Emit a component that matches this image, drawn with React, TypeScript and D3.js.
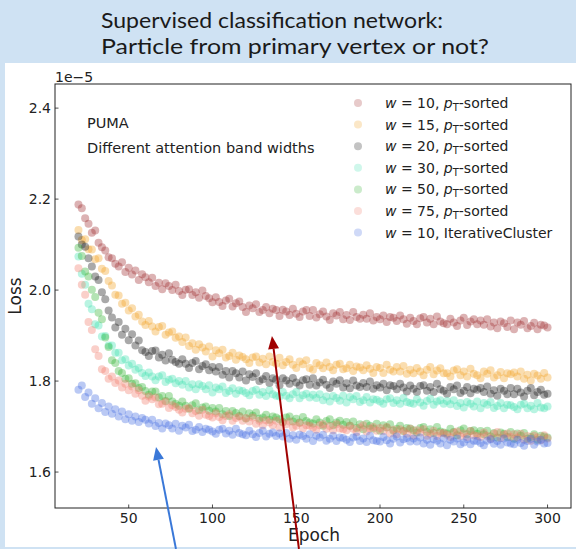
import React from "react";
import * as d3 from "d3";

// Epochs sampled every 2 epochs from 20 to 300
const epochs: number[] = d3.range(20, 301, 2);

// Loss values (units of 1e-5)
const w10: number[] = [
  2.188, 2.180, 2.158, 2.146, 2.126, 2.131, 2.104, 2.094, 2.087, 2.072,
  2.070, 2.058, 2.052, 2.061, 2.040, 2.049, 2.034, 2.043, 2.022, 2.035,
  2.028, 2.017, 2.027, 2.009, 2.016, 2.002, 2.015, 2.009, 2.000, 2.012,
  1.998, 1.989, 2.001, 2.002, 1.989, 1.995, 1.983, 1.999, 1.987, 1.982,
  1.973, 1.984, 1.974, 1.965, 1.977, 1.981, 1.964, 1.971, 1.975, 1.963,
  1.952, 1.966, 1.960, 1.969, 1.952, 1.956, 1.963, 1.949, 1.959, 1.956,
  1.943, 1.957, 1.953, 1.945, 1.959, 1.948, 1.941, 1.953, 1.956, 1.943,
  1.956, 1.940, 1.947, 1.953, 1.942, 1.934, 1.949, 1.944, 1.952, 1.936,
  1.945, 1.934, 1.952, 1.941, 1.937, 1.946, 1.937, 1.949, 1.933, 1.941,
  1.936, 1.944, 1.930, 1.941, 1.939, 1.932, 1.944, 1.936, 1.926, 1.939,
  1.932, 1.925, 1.938, 1.941, 1.929, 1.937, 1.925, 1.942, 1.931, 1.927,
  1.925, 1.937, 1.929, 1.921, 1.933, 1.939, 1.923, 1.931, 1.936, 1.925,
  1.933, 1.924, 1.936, 1.920, 1.929, 1.916, 1.931, 1.927, 1.919, 1.933,
  1.914, 1.929, 1.924, 1.932, 1.916, 1.921, 1.928, 1.914, 1.924, 1.922,
  1.918,
];
const w15: number[] = [
  2.132, 2.110, 2.112, 2.090, 2.089, 2.068, 2.070, 2.047, 2.042, 2.020,
  2.010, 1.990, 1.988, 1.970, 1.972, 1.955, 1.960, 1.942, 1.946, 1.931,
  1.923, 1.932, 1.920, 1.909, 1.919, 1.921, 1.902, 1.907, 1.909, 1.895,
  1.898, 1.886, 1.896, 1.877, 1.883, 1.869, 1.881, 1.874, 1.865, 1.876,
  1.854, 1.868, 1.861, 1.869, 1.852, 1.855, 1.862, 1.847, 1.856, 1.853,
  1.848, 1.840, 1.852, 1.854, 1.841, 1.849, 1.837, 1.854, 1.842, 1.838,
  1.851, 1.835, 1.842, 1.848, 1.836, 1.829, 1.843, 1.837, 1.846, 1.829,
  1.825, 1.840, 1.835, 1.828, 1.841, 1.831, 1.824, 1.836, 1.838, 1.826,
  1.828, 1.836, 1.822, 1.832, 1.830, 1.824, 1.835, 1.827, 1.818, 1.831,
  1.829, 1.818, 1.836, 1.825, 1.821, 1.831, 1.821, 1.833, 1.816, 1.825,
  1.817, 1.829, 1.821, 1.813, 1.825, 1.831, 1.815, 1.823, 1.828, 1.817,
  1.817, 1.810, 1.823, 1.826, 1.813, 1.821, 1.810, 1.827, 1.816, 1.813,
  1.806, 1.821, 1.816, 1.824, 1.808, 1.813, 1.820, 1.806, 1.817, 1.815,
  1.819, 1.810, 1.821, 1.805, 1.814, 1.801, 1.816, 1.812, 1.805, 1.818,
  1.808,
];
const w20: number[] = [
  2.118, 2.100, 2.095, 2.070, 2.052, 2.030, 2.022, 1.995, 1.980, 1.955,
  1.940, 1.918, 1.930, 1.902, 1.915, 1.890, 1.903, 1.878, 1.889, 1.868,
  1.864, 1.855, 1.866, 1.867, 1.852, 1.858, 1.845, 1.861, 1.847, 1.842,
  1.838, 1.848, 1.838, 1.829, 1.840, 1.844, 1.826, 1.833, 1.837, 1.824,
  1.831, 1.821, 1.831, 1.814, 1.822, 1.808, 1.822, 1.817, 1.808, 1.821,
  1.801, 1.815, 1.809, 1.817, 1.800, 1.804, 1.811, 1.796, 1.806, 1.803,
  1.791, 1.806, 1.801, 1.794, 1.807, 1.797, 1.790, 1.802, 1.804, 1.792,
  1.806, 1.790, 1.797, 1.803, 1.792, 1.785, 1.799, 1.794, 1.802, 1.786,
  1.795, 1.784, 1.801, 1.790, 1.787, 1.796, 1.787, 1.799, 1.783, 1.791,
  1.786, 1.794, 1.780, 1.791, 1.789, 1.782, 1.794, 1.786, 1.777, 1.790,
  1.783, 1.776, 1.789, 1.791, 1.779, 1.787, 1.776, 1.794, 1.782, 1.779,
  1.772, 1.787, 1.782, 1.790, 1.774, 1.779, 1.787, 1.773, 1.783, 1.781,
  1.785, 1.776, 1.788, 1.772, 1.780, 1.768, 1.783, 1.779, 1.771, 1.785,
  1.771, 1.783, 1.775, 1.766, 1.779, 1.785, 1.769, 1.776, 1.781, 1.770,
  1.772,
];
const w30: number[] = [
  2.074, 2.036, 2.012, 1.970, 1.958, 1.925, 1.922, 1.898, 1.899, 1.878,
  1.878, 1.862, 1.862, 1.846, 1.848, 1.834, 1.838, 1.825, 1.829, 1.818,
  1.811, 1.819, 1.810, 1.802, 1.810, 1.813, 1.798, 1.803, 1.805, 1.795,
  1.800, 1.792, 1.800, 1.786, 1.793, 1.782, 1.793, 1.789, 1.782, 1.791,
  1.775, 1.786, 1.782, 1.788, 1.774, 1.778, 1.784, 1.772, 1.780, 1.778,
  1.774, 1.769, 1.778, 1.781, 1.770, 1.776, 1.767, 1.780, 1.771, 1.768,
  1.766, 1.776, 1.768, 1.762, 1.771, 1.776, 1.762, 1.769, 1.772, 1.764,
  1.770, 1.763, 1.771, 1.758, 1.766, 1.755, 1.767, 1.763, 1.757, 1.768,
  1.753, 1.765, 1.760, 1.767, 1.754, 1.758, 1.765, 1.753, 1.760, 1.759,
  1.755, 1.750, 1.760, 1.762, 1.752, 1.758, 1.750, 1.763, 1.754, 1.752,
  1.750, 1.760, 1.753, 1.746, 1.756, 1.761, 1.748, 1.755, 1.758, 1.750,
  1.756, 1.749, 1.758, 1.745, 1.752, 1.742, 1.754, 1.750, 1.744, 1.755,
  1.740, 1.752, 1.748, 1.754, 1.741, 1.745, 1.752, 1.740, 1.748, 1.747,
  1.743, 1.738, 1.748, 1.750, 1.740, 1.746, 1.738, 1.752, 1.742, 1.740,
  1.744,
];
const w50: number[] = [
  2.093, 2.075, 2.041, 2.030, 2.001, 1.985, 1.950, 1.936, 1.896, 1.875,
  1.846, 1.840, 1.822, 1.818, 1.805, 1.806, 1.794, 1.795, 1.785, 1.787,
  1.778, 1.770, 1.777, 1.777, 1.764, 1.767, 1.756, 1.767, 1.755, 1.750,
  1.746, 1.755, 1.746, 1.739, 1.747, 1.751, 1.736, 1.742, 1.744, 1.735,
  1.741, 1.733, 1.741, 1.727, 1.734, 1.723, 1.734, 1.730, 1.723, 1.733,
  1.718, 1.729, 1.724, 1.731, 1.717, 1.720, 1.726, 1.715, 1.722, 1.720,
  1.716, 1.710, 1.720, 1.722, 1.711, 1.717, 1.709, 1.721, 1.712, 1.709,
  1.707, 1.716, 1.709, 1.702, 1.712, 1.716, 1.703, 1.709, 1.713, 1.704,
  1.710, 1.702, 1.711, 1.697, 1.705, 1.694, 1.706, 1.702, 1.696, 1.706,
  1.691, 1.703, 1.698, 1.705, 1.691, 1.695, 1.702, 1.690, 1.697, 1.696,
  1.692, 1.687, 1.697, 1.699, 1.688, 1.694, 1.686, 1.699, 1.689, 1.687,
  1.685, 1.695, 1.688, 1.681, 1.692, 1.696, 1.683, 1.690, 1.692, 1.684,
  1.690, 1.683, 1.691, 1.678, 1.686, 1.676, 1.687, 1.684, 1.677, 1.688,
  1.673, 1.685, 1.680, 1.686, 1.673, 1.677, 1.683, 1.671, 1.680, 1.678,
  1.676,
];
const w75: number[] = [
  2.048, 2.012, 1.990, 1.930, 1.912, 1.870, 1.855, 1.826, 1.822, 1.805,
  1.810, 1.796, 1.801, 1.786, 1.794, 1.780, 1.788, 1.772, 1.780, 1.768,
  1.757, 1.766, 1.760, 1.764, 1.749, 1.750, 1.755, 1.741, 1.747, 1.743,
  1.737, 1.731, 1.739, 1.741, 1.729, 1.734, 1.724, 1.737, 1.726, 1.723,
  1.720, 1.729, 1.721, 1.714, 1.723, 1.727, 1.713, 1.719, 1.722, 1.713,
  1.719, 1.711, 1.720, 1.706, 1.713, 1.703, 1.714, 1.709, 1.703, 1.713,
  1.698, 1.709, 1.705, 1.711, 1.698, 1.702, 1.708, 1.696, 1.703, 1.702,
  1.698, 1.693, 1.703, 1.705, 1.695, 1.701, 1.692, 1.705, 1.696, 1.694,
  1.692, 1.702, 1.695, 1.688, 1.698, 1.703, 1.689, 1.696, 1.699, 1.691,
  1.697, 1.690, 1.699, 1.685, 1.693, 1.683, 1.694, 1.690, 1.684, 1.695,
  1.680, 1.692, 1.687, 1.694, 1.680, 1.684, 1.691, 1.679, 1.686, 1.686,
  1.682, 1.677, 1.687, 1.689, 1.679, 1.685, 1.677, 1.690, 1.681, 1.679,
  1.677, 1.687, 1.680, 1.673, 1.684, 1.688, 1.675, 1.682, 1.685, 1.677,
  1.683, 1.676, 1.684, 1.671, 1.679, 1.669, 1.680, 1.676, 1.670, 1.681,
  1.674,
];
const iterCluster: number[] = [
  1.781, 1.790, 1.765, 1.775, 1.750, 1.762, 1.740, 1.752, 1.732, 1.744,
  1.728, 1.738, 1.722, 1.733, 1.716, 1.727, 1.713, 1.722, 1.710, 1.719,
  1.715, 1.707, 1.715, 1.701, 1.708, 1.696, 1.707, 1.703, 1.696, 1.706,
  1.691, 1.702, 1.698, 1.704, 1.690, 1.693, 1.699, 1.688, 1.695, 1.693,
  1.689, 1.684, 1.693, 1.695, 1.685, 1.691, 1.682, 1.695, 1.686, 1.683,
  1.681, 1.691, 1.683, 1.677, 1.686, 1.691, 1.678, 1.684, 1.687, 1.679,
  1.685, 1.678, 1.686, 1.673, 1.681, 1.671, 1.682, 1.679, 1.673, 1.683,
  1.668, 1.680, 1.676, 1.682, 1.669, 1.673, 1.680, 1.668, 1.676, 1.675,
  1.671, 1.666, 1.676, 1.678, 1.668, 1.674, 1.666, 1.680, 1.670, 1.668,
  1.667, 1.677, 1.670, 1.663, 1.673, 1.678, 1.665, 1.672, 1.675, 1.667,
  1.674, 1.667, 1.676, 1.663, 1.671, 1.660, 1.672, 1.669, 1.663, 1.674,
  1.659, 1.671, 1.667, 1.674, 1.661, 1.665, 1.672, 1.661, 1.669, 1.668,
  1.664, 1.659, 1.669, 1.672, 1.662, 1.668, 1.660, 1.674, 1.665, 1.663,
  1.661, 1.671, 1.664, 1.658, 1.668, 1.673, 1.660, 1.667, 1.671, 1.663,
  1.664,
];

const seriesValues: number[][] = [w10, w15, w20, w30, w50, w75, iterCluster];
const seriesWidth: string[] = ["10", "15", "20", "30", "50", "75", "10"];
const seriesSuffix: string[] = ["pt", "pt", "pt", "pt", "pt", "pt", "IterativeCluster"];
const seriesColors: string[] = ["#9e2a2b", "#f0a020", "#111111", "#3ee0ae", "#2fb12f", "#f07a6a", "#4169e1"];

const xTicks: number[] = [50, 100, 150, 200, 250, 300];
const yTicks: number[] = [1.6, 1.8, 2.0, 2.2, 2.4];

// Annotation arrows in data coordinates: [tailX, tailY, tipX, tipY]
const arrowBlue: number[] = [78.2, 1.431, 66.3, 1.655];
const arrowRed: number[] = [151.6, 1.431, 135.5, 1.899];

const W = 576;
const H = 549;
const PL = 55, PR = 571, PT = 84, PB = 508;

export default function App() {
  const x = d3.scaleLinear().domain([6, 314]).range([PL, PR]);
  const y = d3.scaleLinear().domain([1.521, 2.453]).range([PB, PT]);
  const tickFont = "DejaVu Sans, sans-serif";

  const arrow = (a: number[], color: string, key: string) => {
    const x1 = x(a[0]), y1 = y(a[1]), x2 = x(a[2]), y2 = y(a[3]);
    const ang = Math.atan2(y2 - y1, x2 - x1);
    const L = 13, Wd = 5.5;
    const bx = x2 - L * Math.cos(ang), by = y2 - L * Math.sin(ang);
    const p1 = [bx + Wd * Math.sin(ang), by - Wd * Math.cos(ang)];
    const p2 = [bx - Wd * Math.sin(ang), by + Wd * Math.cos(ang)];
    return (
      <g key={key}>
        <line x1={x1} y1={y1} x2={bx} y2={by} stroke={color} strokeWidth={2} />
        <polygon points={`${x2},${y2} ${p1[0]},${p1[1]} ${p2[0]},${p2[1]}`} fill={color} />
      </g>
    );
  };

  const legendY0 = 103;
  const legendDy = 21.6;

  return (
    <svg width={W} height={H} style={{ position: "absolute", left: 0, top: 0 }} xmlns="http://www.w3.org/2000/svg">
      <rect x={0} y={0} width={W} height={H} fill="#cfe2f3" />
      <text x={101} y={28} fontFamily="Lato, sans-serif" fontSize={22} fill="#1a1a1a" textLength={342} lengthAdjust="spacingAndGlyphs">
        Supervised classification network:
      </text>
      <text x={101} y={54} fontFamily="Lato, sans-serif" fontSize={22} fill="#1a1a1a" textLength={388} lengthAdjust="spacingAndGlyphs">
        Particle from primary vertex or not?
      </text>
      <rect x={5} y={63} width={W - 5} height={484} fill="#ffffff" />

      <defs>
        <clipPath id="plotclip">
          <rect x={PL} y={PT} width={PR - PL} height={PB - PT} />
        </clipPath>
      </defs>

      <g clipPath="url(#plotclip)">
        {seriesValues.map((vals, si) => (
          <g key={si} fill={seriesColors[si]} fillOpacity={0.36}>
            {vals.map((v, i) => (
              <circle key={i} cx={x(epochs[i])} cy={y(v)} r={4} />
            ))}
          </g>
        ))}
      </g>

      {/* spines */}
      <rect x={PL} y={PT} width={PR - PL} height={PB - PT} fill="none" stroke="#222" strokeWidth={1} />

      {/* x ticks */}
      {xTicks.map((t) => (
        <g key={t}>
          <line x1={x(t)} x2={x(t)} y1={PB} y2={PB - 3.5} stroke="#222" strokeWidth={0.8} />
          <text x={x(t)} y={PB + 15} textAnchor="middle" fontFamily={tickFont} fontSize={14} fill="#222">
            {t}
          </text>
        </g>
      ))}
      {/* y ticks */}
      {yTicks.map((t) => (
        <g key={t}>
          <line x1={PL} x2={PL + 3.5} y1={y(t)} y2={y(t)} stroke="#222" strokeWidth={0.8} />
          <text x={PL - 4} y={y(t)} dy="0.35em" textAnchor="end" fontFamily={tickFont} fontSize={14} fill="#222">
            {d3.format(".1f")(t)}
          </text>
        </g>
      ))}
      <text x={PL} y={82} fontFamily={tickFont} fontSize={14} fill="#222">1e−5</text>

      <text x={(PL + PR) / 2 + 1} y={541} textAnchor="middle" fontFamily={tickFont} fontSize={17} fill="#222">
        Epoch
      </text>
      <text transform={`translate(21, ${(PT + PB) / 2}) rotate(-90)`} textAnchor="middle" fontFamily={tickFont} fontSize={17} fill="#222">
        Loss
      </text>

      <text x={87} y={128} fontFamily={tickFont} fontSize={14.5} fill="#222">PUMA</text>
      <text x={87} y={153} fontFamily={tickFont} fontSize={14.5} fill="#222">Different attention band widths</text>

      {/* legend */}
      {seriesValues.map((_, si) => {
        const ly = legendY0 + si * legendDy;
        return (
          <g key={"leg" + si}>
            <circle cx={358} cy={ly} r={4} fill={seriesColors[si]} fillOpacity={0.25} />
            <text x={385} y={ly} dy="0.35em" fontFamily={tickFont} fontSize={14} fill="#222">
              <tspan fontStyle="italic">w</tspan>
              {" = " + seriesWidth[si] + ", "}
              {seriesSuffix[si] === "pt" ? (
                <>
                  <tspan fontStyle="italic">p</tspan>
                  <tspan fontSize={10} dy={3}>T</tspan>
                  <tspan dy={-3}>-sorted</tspan>
                </>
              ) : (
                seriesSuffix[si]
              )}
            </text>
          </g>
        );
      })}

      {arrow(arrowBlue, "#3a78d8", "ab")}
      {arrow(arrowRed, "#a00000", "ar")}
    </svg>
  );
}
